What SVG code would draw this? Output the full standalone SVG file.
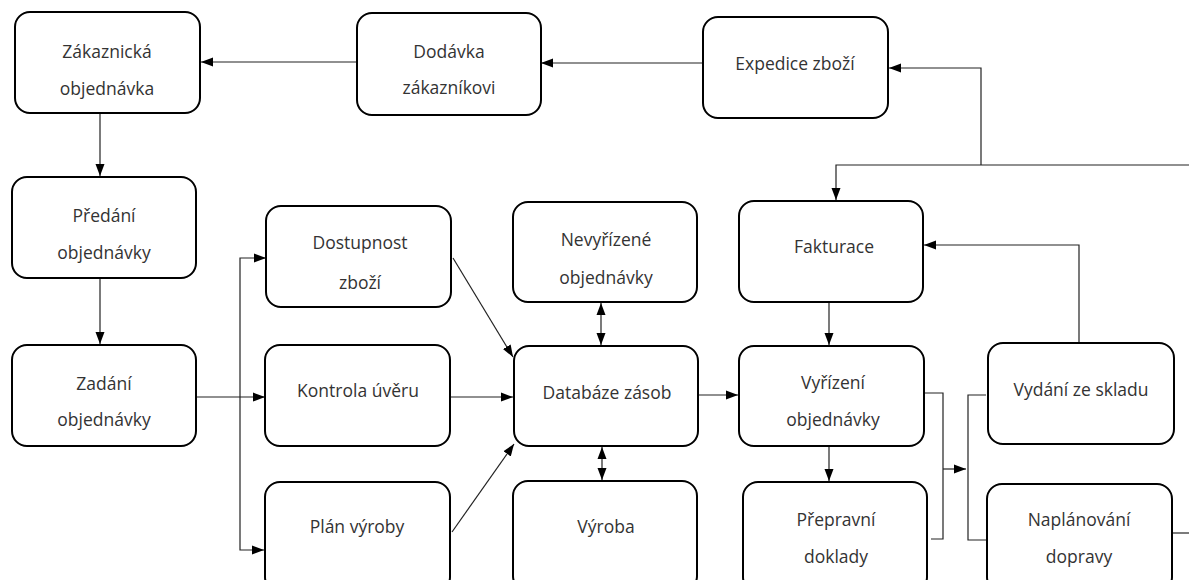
<svg xmlns="http://www.w3.org/2000/svg" width="1189" height="580" viewBox="0 0 1189 580">
  <style>
    .box { fill: #ffffff; stroke: #000000; stroke-width: 2; }
    .lbl { font-family: "Open Sans", "Noto Sans", "DejaVu Sans", sans-serif; font-size: 17.5px; fill: #333333; text-anchor: middle; }
    .ln { fill: none; stroke: #222222; stroke-width: 1.2; }
    .arr { marker-end: url(#ah); }
    .both { marker-start: url(#ah); marker-end: url(#ah); }
  </style>
  <defs>
    <marker id="ah" markerUnits="userSpaceOnUse" markerWidth="12" markerHeight="12" viewBox="0 0 12 12" refX="12" refY="6" orient="auto-start-reverse">
      <path d="M0,1.5 L12,6 L0,10.5 z" fill="#000000"/>
    </marker>
  </defs>
  <rect width="1189" height="580" fill="#ffffff"/>

  <!-- connectors -->
  <g id="connectors">
    <line class="ln arr" x1="703" y1="63" x2="541" y2="63"/>
    <line class="ln arr" x1="357" y1="62" x2="201" y2="62"/>
    <line class="ln arr" x1="100" y1="113" x2="100" y2="176"/>
    <line class="ln arr" x1="100" y1="278" x2="100" y2="344"/>
    <line class="ln arr" x1="196" y1="397" x2="265" y2="397"/>
    <polyline class="ln both" points="266,258 240,258 240,550 264,550"/>
    <line class="ln arr" x1="453" y1="258" x2="513" y2="357"/>
    <line class="ln arr" x1="450" y1="397" x2="513" y2="397"/>
    <line class="ln arr" x1="452" y1="532" x2="514" y2="444"/>
    <line class="ln both" x1="601" y1="303" x2="601" y2="345"/>
    <line class="ln both" x1="602" y1="447" x2="602" y2="480"/>
    <line class="ln arr" x1="698" y1="395" x2="738" y2="395"/>
    <line class="ln arr" x1="829" y1="302" x2="829" y2="345"/>
    <line class="ln arr" x1="829" y1="446" x2="829" y2="481"/>
    <polyline class="ln" points="924,393 943,393 943,539 931,539"/>
    <line class="ln arr" x1="943" y1="469" x2="966" y2="469"/>
    <polyline class="ln" points="986,395 968,395 968,540 992,540"/>
    <polyline class="ln arr" points="1079,343 1079,245 924,245"/>
    <line class="ln" x1="1172" y1="533" x2="1189" y2="533"/>
    <polyline class="ln arr" points="1189,165 836,165 836,200"/>
    <polyline class="ln arr" points="981,165 981,68 889,68"/>
  </g>

  <!-- nodes -->
  <g id="zakaznicka-objednavka">
    <rect class="box" x="15" y="12" width="185" height="101" rx="15"/>
    <text class="lbl" x="107" y="58">Zákaznická</text>
    <text class="lbl" x="107" y="95">objednávka</text>
  </g>
  <g id="dodavka-zakaznikovi">
    <rect class="box" x="357" y="13" width="184" height="102" rx="15"/>
    <text class="lbl" x="449" y="58">Dodávka</text>
    <text class="lbl" x="449" y="94">zákazníkovi</text>
  </g>
  <g id="expedice-zbozi">
    <rect class="box" x="703" y="17" width="185" height="101" rx="15"/>
    <text class="lbl" x="795" y="70">Expedice zboží</text>
  </g>
  <g id="predani-objednavky">
    <rect class="box" x="12" y="177" width="184" height="101" rx="15"/>
    <text class="lbl" x="104" y="222">Předání</text>
    <text class="lbl" x="104" y="259">objednávky</text>
  </g>
  <g id="zadani-objednavky">
    <rect class="box" x="12" y="345" width="184" height="101" rx="15"/>
    <text class="lbl" x="104" y="390">Zadání</text>
    <text class="lbl" x="104" y="426">objednávky</text>
  </g>
  <g id="dostupnost-zbozi">
    <rect class="box" x="266" y="206" width="185" height="101" rx="15"/>
    <text class="lbl" x="360" y="249">Dostupnost</text>
    <text class="lbl" x="360" y="289">zboží</text>
  </g>
  <g id="kontrola-uveru">
    <rect class="box" x="265" y="345" width="185" height="101" rx="15"/>
    <text class="lbl" x="358" y="397">Kontrola úvěru</text>
  </g>
  <g id="plan-vyroby">
    <rect class="box" x="265" y="482" width="185" height="110" rx="15"/>
    <text class="lbl" x="357" y="533">Plán výroby</text>
  </g>
  <g id="nevyrizene-objednavky">
    <rect class="box" x="513" y="202" width="184" height="100" rx="15"/>
    <text class="lbl" x="606" y="246">Nevyřízené</text>
    <text class="lbl" x="606" y="284">objednávky</text>
  </g>
  <g id="databaze-zasob">
    <rect class="box" x="514" y="346" width="184" height="100" rx="15"/>
    <text class="lbl" x="607" y="399">Databáze zásob</text>
  </g>
  <g id="vyroba">
    <rect class="box" x="513" y="481" width="184" height="110" rx="15"/>
    <text class="lbl" x="606" y="533">Výroba</text>
  </g>
  <g id="fakturace">
    <rect class="box" x="739" y="201" width="184" height="101" rx="15"/>
    <text class="lbl" x="834" y="253">Fakturace</text>
  </g>
  <g id="vyrizeni-objednavky">
    <rect class="box" x="739" y="346" width="185" height="100" rx="15"/>
    <text class="lbl" x="833" y="389">Vyřízení</text>
    <text class="lbl" x="833" y="426">objednávky</text>
  </g>
  <g id="prepravni-doklady">
    <rect class="box" x="743" y="482" width="184" height="110" rx="15"/>
    <text class="lbl" x="836" y="526">Přepravní</text>
    <text class="lbl" x="836" y="563">doklady</text>
  </g>
  <g id="vydani-ze-skladu">
    <rect class="box" x="988" y="343" width="186" height="101" rx="15"/>
    <text class="lbl" x="1081" y="396">Vydání ze skladu</text>
  </g>
  <g id="naplanovani-dopravy">
    <rect class="box" x="987" y="484" width="185" height="108" rx="15"/>
    <text class="lbl" x="1079" y="526">Naplánování</text>
    <text class="lbl" x="1079" y="563">dopravy</text>
  </g>
</svg>
